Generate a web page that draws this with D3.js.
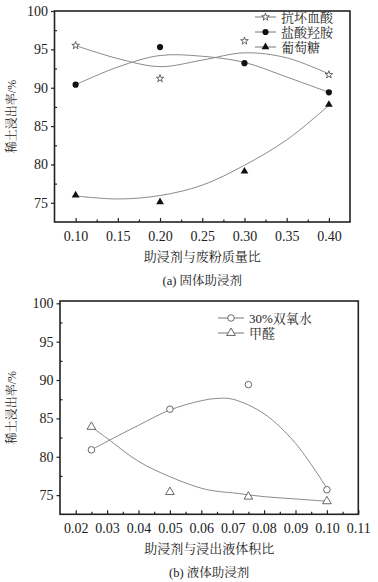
<!DOCTYPE html>
<html>
<head>
<meta charset="utf-8">
<script src="https://cdn.jsdelivr.net/npm/d3@7"></script>
<style>
  body { margin: 0; background: #fff; }
</style>
</head>
<body>
<div id="chart"></div>
<script>
// ---- panel (a): solid leaching aids ----
const ratiosA = [0.10, 0.20, 0.30, 0.40];
const ascorbic = [95.5, 91.2, 96.1, 91.7];      // 抗坏血酸
const hydroxylamine = [90.4, 95.3, 93.2, 89.4]; // 盐酸羟胺
const glucose = [76.0, 75.1, 79.1, 87.8];       // 葡萄糖

// fitted trend lines
const fitXA = [0.10, 0.15, 0.20, 0.25, 0.30, 0.35, 0.40];
const ascorbicFit = [95.5, 93.8, 92.75, 93.6, 94.55, 93.9, 91.8];
const hydroxylamineFit = [90.4, 92.7, 94.2, 94.1, 93.3, 91.4, 89.4];
const glucoseFit = [75.9, 75.5, 75.95, 77.3, 79.9, 83.2, 87.7];

const xTicksA = [0.10, 0.15, 0.20, 0.25, 0.30, 0.35, 0.40];
const yTicks = [75, 80, 85, 90, 95, 100];

// ---- panel (b): liquid leaching aids ----
const ratiosB = [0.025, 0.05, 0.075, 0.10];
const peroxide = [80.9, 86.2, 89.4, 75.7];      // 30%双氧水
const formaldehyde = [83.9, 75.4, 74.8, 74.2];  // 甲醛

const fitXB = [0.025, 0.03, 0.04, 0.05, 0.06, 0.065, 0.07, 0.08, 0.09, 0.10];
const peroxideFit = [80.9, 82.0, 84.1, 86.1, 87.3, 87.6, 87.5, 85.6, 81.75, 75.9];
const formaldehydeFit = [83.9, 82.4, 79.4, 77.4, 75.9, 75.5, 75.3, 74.8, 74.5, 74.2];

const xTicksB = [0.02, 0.03, 0.04, 0.05, 0.06, 0.07, 0.08, 0.09, 0.10, 0.11];

const NUM_FONT = "'Liberation Serif', 'Times New Roman', serif";
const CJK_FONT = "'Liberation Serif', 'Noto Serif CJK SC', 'Noto Sans CJK SC', serif";
const INK = "#222";

const svg = d3.select("#chart").append("svg")
    .attr("width", 378)
    .attr("height", 582);

const symStar = d3.symbol().type(d3.symbolStar).size(18);
const symCircle = d3.symbol().type(d3.symbolCircle).size(30);
const symTri = d3.symbol().type(d3.symbolTriangle).size(26);
const symCircleO = d3.symbol().type(d3.symbolCircle).size(34);
const symTriO = d3.symbol().type(d3.symbolTriangle).size(32);

function styleNum(sel) {
    sel.style("font-family", NUM_FONT).style("font-size", "14px").attr("fill", INK);
}

function cjk(sel, size) {
    sel.style("font-family", CJK_FONT).style("font-size", size + "px").attr("fill", INK);
}

function drawPanel(cfg) {
    const x = d3.scaleLinear().domain(cfg.xDomain).range([cfg.left, cfg.right]);
    const y = d3.scaleLinear().domain(cfg.yDomain).range([cfg.bottom, cfg.top]);
    const g = svg.append("g");

    // frame
    g.append("rect")
        .attr("x", cfg.left).attr("y", cfg.top)
        .attr("width", cfg.right - cfg.left).attr("height", cfg.bottom - cfg.top)
        .attr("fill", "none").attr("stroke", INK).attr("stroke-width", 1.6);

    // bottom axis: ticks inward
    const xAxis = g.append("g").attr("transform", `translate(0,${cfg.bottom})`)
        .call(d3.axisBottom(x).tickValues(cfg.xTicks).tickSize(-4).tickPadding(9)
            .tickFormat(d3.format(".2f")));
    xAxis.select(".domain").remove();
    xAxis.selectAll("line").attr("stroke", INK).attr("stroke-width", 1.2);
    xAxis.selectAll("text").call(styleNum);

    const xMinor = cfg.xTicks.slice(0, -1).map((d, i) => (d + cfg.xTicks[i + 1]) / 2)
        .filter(d => x(d) > cfg.left && x(d) < cfg.right);
    g.append("g").attr("transform", `translate(0,${cfg.bottom})`)
        .call(d3.axisBottom(x).tickValues(xMinor).tickSize(-2.5).tickFormat(""))
        .call(a => a.select(".domain").remove())
        .selectAll("line").attr("stroke", INK).attr("stroke-width", 1.2);

    // left axis: major ticks outward, minor inward
    const yAxis = g.append("g").attr("transform", `translate(${cfg.left},0)`)
        .call(d3.axisLeft(y).tickValues(yTicks).tickSize(3.5).tickPadding(3));
    yAxis.select(".domain").remove();
    yAxis.selectAll("line").attr("stroke", INK).attr("stroke-width", 1.2);
    yAxis.selectAll("text").call(styleNum);

    const yMinor = yTicks.map(d => d + 2.5).filter(d => y(d) > cfg.top);
    g.append("g").attr("transform", `translate(${cfg.left},0)`)
        .call(d3.axisLeft(y).tickValues(yMinor).tickSize(-2.5).tickFormat(""))
        .call(a => a.select(".domain").remove())
        .selectAll("line").attr("stroke", INK).attr("stroke-width", 1.2);

    // fitted curves
    const line = d3.line().x(d => x(d[0])).y(d => y(d[1])).curve(d3.curveCatmullRom.alpha(0.5));
    cfg.series.forEach(s => {
        g.append("path")
            .datum(cfg.fitX.map((v, i) => [v, s.fit[i]]))
            .attr("fill", "none").attr("stroke", "#8a8a8a").attr("stroke-width", 1)
            .attr("d", line);
    });

    // markers
    cfg.series.forEach(s => {
        g.selectAll(null)
            .data(cfg.xs.map((v, i) => [v, s.values[i]]))
            .join("path")
            .attr("transform", d => `translate(${x(d[0])},${y(d[1])})`)
            .attr("d", s.sym)
            .attr("fill", s.filled ? "#111" : "#fff")
            .attr("stroke", s.filled ? "none" : "#444")
            .attr("stroke-width", 0.8);
    });

    // legend
    cfg.series.forEach((s, i) => {
        const ly = cfg.legend.y + i * cfg.legend.dy;
        g.append("line")
            .attr("x1", cfg.legend.x).attr("x2", cfg.legend.x + cfg.legend.len)
            .attr("y1", ly).attr("y2", ly)
            .attr("stroke", "#777").attr("stroke-width", 1);
        g.append("path")
            .attr("transform", `translate(${cfg.legend.x + cfg.legend.len / 2},${ly})`)
            .attr("d", s.sym)
            .attr("fill", s.filled ? "#111" : "#fff")
            .attr("stroke", s.filled ? "none" : "#444")
            .attr("stroke-width", 0.8);
        g.append("text")
            .call(cjk, 13)
            .attr("x", cfg.legend.x + cfg.legend.len + 5).attr("y", ly)
            .attr("dy", "0.36em")
            .text(s.name);
    });

    // axis titles
    const midX = (cfg.left + cfg.right) / 2;
    g.append("text")
        .call(cjk, 13)
        .attr("x", midX).attr("y", cfg.bottom + 39)
        .attr("text-anchor", "middle")
        .text(cfg.xTitle);
    g.append("text")
        .call(cjk, 12.5)
        .attr("x", midX).attr("y", cfg.bottom + 63)
        .attr("text-anchor", "middle")
        .text(cfg.caption);
    g.append("text")
        .call(cjk, 12)
        .attr("transform", `translate(16,${(cfg.top + cfg.bottom) / 2}) rotate(-90)`)
        .attr("text-anchor", "middle")
        .text("稀土浸出率/%");
}

drawPanel({
    left: 54.5, right: 350, top: 11, bottom: 222,
    xDomain: [0.075, 0.425], yDomain: [72.5, 100],
    xTicks: xTicksA, xs: ratiosA, fitX: fitXA,
    series: [
        { name: "抗坏血酸", values: ascorbic, fit: ascorbicFit, sym: symStar, filled: false },
        { name: "盐酸羟胺", values: hydroxylamine, fit: hydroxylamineFit, sym: symCircle, filled: true },
        { name: "葡萄糖", values: glucose, fit: glucoseFit, sym: symTri, filled: true }
    ],
    legend: { x: 255, y: 17, dy: 15, len: 21 },
    xTitle: "助浸剂与废粉质量比",
    caption: "(a) 固体助浸剂"
});

drawPanel({
    left: 60, right: 358.3, top: 301, bottom: 514.3,
    xDomain: [0.015, 0.11], yDomain: [72.5, 100.3],
    xTicks: xTicksB, xs: ratiosB, fitX: fitXB,
    series: [
        { name: "30%双氧水", values: peroxide, fit: peroxideFit, sym: symCircleO, filled: false },
        { name: "甲醛", values: formaldehyde, fit: formaldehydeFit, sym: symTriO, filled: false }
    ],
    legend: { x: 218, y: 318, dy: 15, len: 26 },
    xTitle: "助浸剂与浸出液体积比",
    caption: "(b) 液体助浸剂"
});
</script>
</body>
</html>
